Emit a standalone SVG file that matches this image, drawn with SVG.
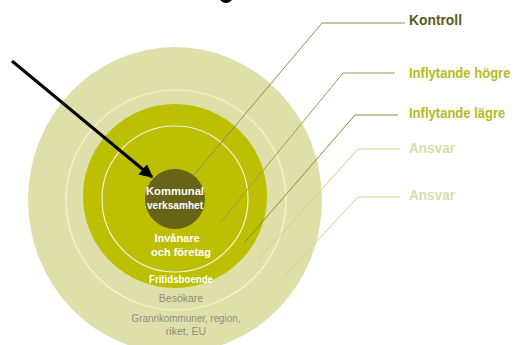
<svg xmlns="http://www.w3.org/2000/svg" width="519" height="345" viewBox="0 0 519 345">
<defs>
<style>
text{font-family:"Liberation Sans",Arial,sans-serif;}
.lab{font-size:15px;font-weight:bold;}
.in{fill:#ffffff;font-weight:bold;font-size:11px;text-anchor:middle;}
.gr{fill:#8c8c82;font-size:10.5px;text-anchor:middle;}
.ring{fill:none;stroke:#f4f4d8;stroke-width:1.2;}
</style>
<marker id="ah" viewBox="0 0 10 10" refX="9" refY="5" markerWidth="4.5" markerHeight="4.5" orient="auto" markerUnits="strokeWidth">
<path d="M0,0 L10,5 L0,10 z" fill="#000"/>
</marker>
</defs>
<rect width="519" height="345" fill="#ffffff"/>
<ellipse cx="226" cy="-4" rx="7" ry="7" fill="#000"/>
<g id="outer"><ellipse cx="175" cy="200" rx="147" ry="153" fill="#dfe0a9"/>
<circle class="ring" cx="176" cy="200" r="110"/></g>
<g id="middle"><circle cx="175" cy="196" r="92" fill="#bcbf02"/>
<circle class="ring" cx="175" cy="199" r="73" stroke="#eaec9e"/></g>
<g id="core"><circle cx="175" cy="199" r="30" fill="#676418"/>
<text class="in" x="175" y="195" textLength="58" lengthAdjust="spacingAndGlyphs">Kommunal</text>
<text class="in" x="175" y="209" textLength="56" lengthAdjust="spacingAndGlyphs">verksamhet</text></g>
<g id="residents"><text class="in" x="177" y="242">Invånare</text>
<text class="in" x="181" y="256">och företag</text></g>
<g id="leisure"><text class="in" x="181" y="283" textLength="64" lengthAdjust="spacingAndGlyphs">Fritidsboende</text></g>
<g id="visitors"><text class="gr" x="181" y="302">Besökare</text></g>
<g id="neighbours"><text class="gr" x="186" y="322" textLength="109" lengthAdjust="spacingAndGlyphs">Grannkommuner, region,</text>
<text class="gr" x="186" y="335">riket, EU</text></g>
<g id="connectors" fill="none" stroke-width="1">
<polyline points="193,176 322,23 405,23" stroke="#8f8c55"/>
<polyline points="220,223 343,73 395,73" stroke="#9c9b48"/>
<polyline points="244,243 355,115 398,115" stroke="#8d8b2c"/>
<polyline points="258,260 358,149 400,149" stroke="#cfd283"/>
<polyline points="285,275 358,197 400,197" stroke="#cfd283"/>
<line x1="12" y1="61" x2="152" y2="177" stroke="#000" stroke-width="3" marker-end="url(#ah)"/>
</g>
<g id="labels">
<text class="lab" x="409" y="25" fill="#5c5a12" textLength="53" lengthAdjust="spacingAndGlyphs">Kontroll</text>
<text class="lab" transform="translate(409,78) scale(0.87,1)" fill="#b6bb1c">Inflytande högre</text>
<text class="lab" transform="translate(409,118) scale(0.87,1)" fill="#b6bb1c">Inflytande lägre</text>
<text class="lab" x="409" y="153" fill="#dcdcaa" textLength="46" lengthAdjust="spacingAndGlyphs">Ansvar</text>
<text class="lab" x="409" y="200" fill="#dcdcaa" textLength="46" lengthAdjust="spacingAndGlyphs">Ansvar</text>
</g>
</svg>
